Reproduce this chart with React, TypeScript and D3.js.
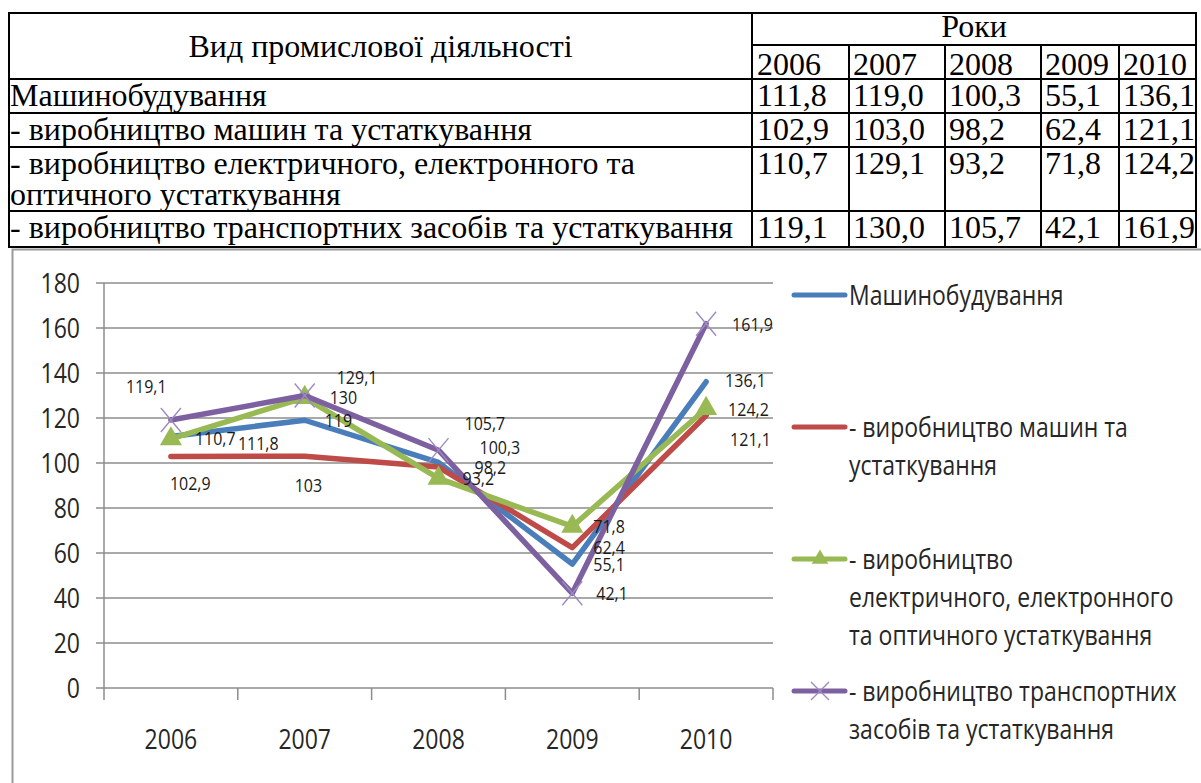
import * as React from "react";
import * as d3 from "d3";

// values copied from the table (index of industrial production, %)
const YEARS = ["2006", "2007", "2008", "2009", "2010"];
const MACHINE_BUILDING = [111.8, 119.0, 100.3, 55.1, 136.1];
const MACHINERY = [102.9, 103.0, 98.2, 62.4, 121.1];
const ELECTRICAL = [110.7, 129.1, 93.2, 71.8, 124.2];
const TRANSPORT = [119.1, 130.0, 105.7, 42.1, 161.9];
const Y_TICKS = [0, 20, 40, 60, 80, 100, 120, 140, 160, 180];

const TABLE_HEAD = "Вид промислової діяльності";
const TABLE_YEARS_HEAD = "Роки";
const TABLE_LABELS = [
  ["Машинобудування"],
  ["- виробництво машин та устаткування"],
  ["- виробництво електричного, електронного та", "оптичного устаткування"],
  ["- виробництво транспортних засобів та устаткування"],
];
const LEGEND_LABELS = [
  ["Машинобудування"],
  ["- виробництво машин та", "устаткування"],
  ["- виробництво", "електричного, електронного", "та оптичного устаткування"],
  ["- виробництво транспортних", "засобів та устаткування"],
];

const SERIES = [MACHINE_BUILDING, MACHINERY, ELECTRICAL, TRANSPORT];
const COLORS = ["#4a7ebb", "#be4b48", "#98b954", "#7d60a0"];
const MARKERS = ["none", "none", "triangle", "x"];

// data label offsets (dx, dy) from the point, Excel placed them by hand
const LABEL_OFFSETS = [
  [[67, 14], [20, 7], [41, -8], [21, 7], [19, 5]],
  [[-1, 34], [-10, 36], [36, 7], [21, 6], [24, 30]],
  [[24, 6], [32, -14], [24, 7], [21, 7], [22, 7]],
  [[-45, -27], [25, 8], [26, -20], [24, 7], [26, 7]],
];

const SERIF = "'Liberation Serif', 'Times New Roman', serif";
const SANS = "'Open Sans', 'Noto Sans', sans-serif";
const STRETCH = 1.15; // chart picture was pasted a bit taller than wide

const fmtTable = (v: number) => d3.format(".1f")(v).replace(".", ",");
const fmtLabel = (v: number) => (Number.isInteger(v) ? String(v) : fmtTable(v));

function xMark(r: number, ry: number) {
  const p = d3.path();
  p.moveTo(-r, -ry);
  p.lineTo(r, ry);
  p.moveTo(-r, ry);
  p.lineTo(r, -ry);
  return p.toString();
}

function SText(props: {
  x: number;
  y: number;
  size: number;
  anchor?: string;
  dy?: string;
  fill?: string;
  children: React.ReactNode;
}) {
  return (
    <text
      transform={`translate(${props.x},${props.y}) scale(1,${STRETCH})`}
      dy={props.dy}
      textAnchor={props.anchor || "start"}
      fontSize={props.size}
      fill={props.fill || "#262626"}
    >
      {props.children}
    </text>
  );
}

function Marker({ kind, color, big }: { kind: string; color: string; big: boolean }) {
  if (kind === "triangle") {
    const d = d3.symbol(d3.symbolTriangle, big ? 210 : 120)();
    return <path d={d || ""} fill={color} />;
  }
  if (kind === "x") {
    return (
      <path
        d={big ? xMark(10, 12) : xMark(9, 9)}
        stroke="#9d8bc2"
        strokeWidth={1.4}
        fill="none"
      />
    );
  }
  return null;
}

function Table() {
  const left = 9;
  const cols = [752, 849, 945, 1041, 1119, 1196];
  const rows = [13, 45, 79, 113, 147, 211, 247];
  const bodyRows = rows.slice(2);
  const line = { stroke: "#000", strokeWidth: 2 };
  const pad = (i: number) => cols[i] + (i === 0 ? 5 : 4);
  return (
    <g fontFamily={SERIF} fontSize={32} fill="#000">
      <line x1={left - 1} x2={cols[5] + 1} y1={rows[0]} y2={rows[0]} {...line} />
      <line x1={cols[0]} x2={cols[5]} y1={rows[1]} y2={rows[1]} {...line} />
      {bodyRows.map((y) => (
        <line key={y} x1={left - 1} x2={cols[5] + 1} y1={y} y2={y} {...line} />
      ))}
      <line x1={left} x2={left} y1={rows[0]} y2={rows[6]} {...line} />
      <line x1={cols[0]} x2={cols[0]} y1={rows[0]} y2={rows[6]} {...line} />
      <line x1={cols[5]} x2={cols[5]} y1={rows[0]} y2={rows[6]} {...line} />
      {cols.slice(1, 5).map((x) => (
        <line key={x} x1={x} x2={x} y1={rows[1]} y2={rows[6]} {...line} />
      ))}
      <text x={(left + cols[0]) / 2} y={57} textAnchor="middle">
        {TABLE_HEAD}
      </text>
      <text x={(cols[0] + cols[5]) / 2} y={37} textAnchor="middle">
        {TABLE_YEARS_HEAD}
      </text>
      {YEARS.map((yr, i) => (
        <text key={yr} x={pad(i)} y={75}>
          {yr}
        </text>
      ))}
      {TABLE_LABELS.map((lines, r) => (
        <g key={r}>
          {lines.map((t, k) => (
            <text key={k} x={10} y={bodyRows[r] + 27 + k * 31}>
              {t}
            </text>
          ))}
          {SERIES[r].map((v, i) => (
            <text key={i} x={pad(i)} y={bodyRows[r] + 27}>
              {fmtTable(v)}
            </text>
          ))}
        </g>
      ))}
    </g>
  );
}

function Chart() {
  const x = d3.scaleBand<string>().domain(YEARS).range([104, 773]);
  const y = d3.scaleLinear().domain([0, 180]).range([688, 283]);
  const cx = (yr: string) => (x(yr) ?? 0) + x.bandwidth() / 2;
  const line = d3
    .line<number>()
    .x((_, i) => cx(YEARS[i]))
    .y((v) => y(v));
  const grid = "#8c8c8c";
  const ticksX = [...YEARS.map((yr) => x(yr) ?? 0), 773];

  return (
    <g fontFamily={SANS}>
      <rect x={12.5} y={249.5} width={1200} height={540} fill="#fff" stroke="#9a9a9a" strokeWidth={2} />
      {Y_TICKS.map((t) => (
        <g key={t}>
          <line x1={96} x2={773} y1={y(t)} y2={y(t)} stroke={grid} strokeWidth={1.5} />
          <SText x={80} y={y(t)} dy="0.36em" anchor="end" size={23}>
            {t}
          </SText>
        </g>
      ))}
      <line x1={104} x2={104} y1={y(180)} y2={y(0)} stroke={grid} strokeWidth={1.5} />
      {ticksX.map((tx, i) => (
        <line key={i} x1={tx} x2={tx} y1={y(0)} y2={y(0) + 12} stroke={grid} strokeWidth={1.5} />
      ))}
      {YEARS.map((yr) => (
        <SText key={yr} x={cx(yr)} y={749} anchor="middle" size={23}>
          {yr}
        </SText>
      ))}

      {SERIES.map((vals, s) => (
        <g key={s}>
          <path
            d={line(vals) || ""}
            fill="none"
            stroke={COLORS[s]}
            strokeWidth={5.5}
            strokeLinejoin="round"
            strokeLinecap="round"
          />
          {vals.map((v, i) => (
            <g key={i} transform={`translate(${cx(YEARS[i])},${y(v)})`}>
              <Marker kind={MARKERS[s]} color={COLORS[s]} big />
            </g>
          ))}
        </g>
      ))}
      {SERIES.map((vals, s) =>
        vals.map((v, i) => (
          <SText
            key={`${s}-${i}`}
            x={cx(YEARS[i]) + LABEL_OFFSETS[s][i][0]}
            y={y(v) + LABEL_OFFSETS[s][i][1]}
            size={16}
            fill="#1a1a1a"
          >
            {fmtLabel(v)}
          </SText>
        ))
      )}

      {LEGEND_LABELS.map((lines, s) => {
        const ly = 295 + s * 132;
        return (
          <g key={s}>
            <line x1={794} x2={845} y1={ly} y2={ly} stroke={COLORS[s]} strokeWidth={5} strokeLinecap="round" />
            <g transform={`translate(820,${ly})`}>
              <Marker kind={MARKERS[s]} color={COLORS[s]} big={false} />
            </g>
            {lines.map((t, k) => (
              <SText key={k} x={849} y={ly + k * 38} dy="0.36em" size={23}>
                {t}
              </SText>
            ))}
          </g>
        );
      })}
    </g>
  );
}

export default function App() {
  return (
    <svg
      width={1201}
      height={783}
      style={{ position: "absolute", left: 0, top: 0, background: "#fff" }}
    >
      <Table />
      <Chart />
    </svg>
  );
}
